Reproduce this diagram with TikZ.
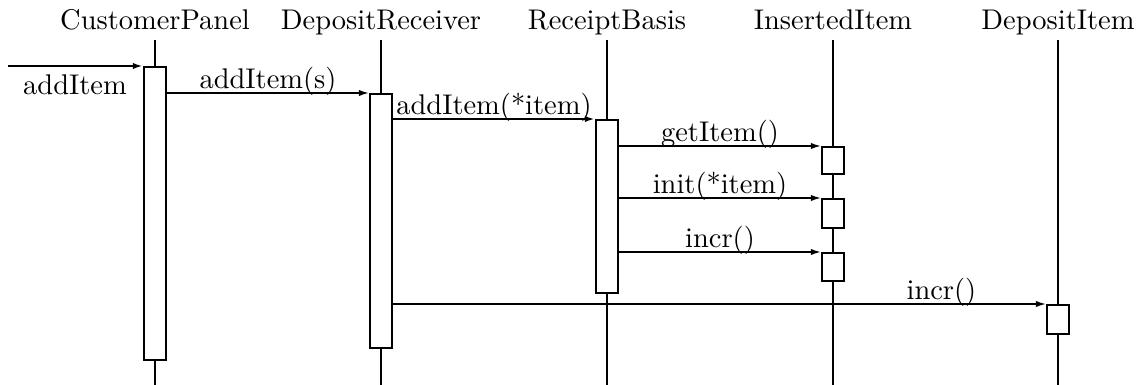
\documentclass[tikz,border=0pt]{standalone}
\usetikzlibrary{arrows.meta}
\newcommand{\px}{0.3514pt}
\tikzset{
  act/.style={draw,line width=0.8pt,fill=white,inner sep=0pt,minimum width=22*\px},
  msg/.style={-{Latex[length=3.5pt,width=2.2pt]},line width=0.5pt},
  life/.style={line width=0.4pt},
  lbl/.style={anchor=base,yshift=1.5pt,inner sep=0pt},
}
\begin{document}
\begin{tikzpicture}[x=0.3514pt,y=-0.3514pt]
        \useasboundingbox (0,0) rectangle (1141,385);

        % 定义坐标
        \coordinate (cpT) at (155,40);  \coordinate (cpB) at (155,385);
        \coordinate (drT) at (381,40);  \coordinate (drB) at (381,385);
        \coordinate (rbT) at (607,40);  \coordinate (rbB) at (607,385);
        \coordinate (iiT) at (833,40);  \coordinate (iiB) at (833,385);
        \coordinate (diT) at (1058,40); \coordinate (diB) at (1058,385);
        \coordinate (start) at (8,66);

        % 对象名
        \node[anchor=base] (cpN) at (155,30) {CustomerPanel};
        \node[anchor=base] (drN) at (381,30) {DepositReceiver};
        \node[anchor=base] (rbN) at (607,30) {ReceiptBasis};
        \node[anchor=base] (iiN) at (833,30) {InsertedItem};
        \node[anchor=base] (diN) at (1058,30) {DepositItem};

        % 生命线
        \draw[life] (cpT) -- (cpB);
        \draw[life] (drT) -- (drB);
        \draw[life] (rbT) -- (rbB);
        \draw[life] (iiT) -- (iiB);
        \draw[life] (diT) -- (diB);

        % 激活框
        \node[act,anchor=north,minimum height=293*\px] (cp) at (155,66) {};
        \node[act,anchor=north,minimum height=254*\px] (dr) at (381,93) {};
        \node[act,anchor=north,minimum height=173*\px] (rb) at (607,119) {};
        \node[act,anchor=north,minimum height=27*\px] (ii1) at (833,146) {};
        \node[act,anchor=north,minimum height=29*\px] (ii2) at (833,198) {};
        \node[act,anchor=north,minimum height=28*\px] (ii3) at (833,252) {};
        \node[act,anchor=north,minimum height=29*\px] (di) at (1058,304) {};

        % 消息
        \draw[msg,line width=0.8pt] (start) -- (cp.north west);
        \node[anchor=base] (inLbl) at (75,95) {addItem};
        \draw[msg] (cp.east |- dr.north) -- (dr.north west) node[lbl,midway]{addItem(s)};
        \draw[msg,line width=0.8pt] (dr.east |- rb.north) -- (rb.north west) node[lbl,midway]{addItem(*item)};
        \draw[msg] (rb.east |- ii1.north) -- (ii1.north west) node[lbl,midway]{getItem()};
        \draw[msg] (rb.east |- ii2.north) -- (ii2.north west) node[lbl,midway]{init(*item)};
        \draw[msg] (rb.east |- ii3.north) -- (ii3.north west) node[lbl,midway]{incr()};
        \draw[msg] (dr.east |- di.north) -- (di.north west) node[lbl,pos=0.84]{incr()};
    \end{tikzpicture}
\end{document}
